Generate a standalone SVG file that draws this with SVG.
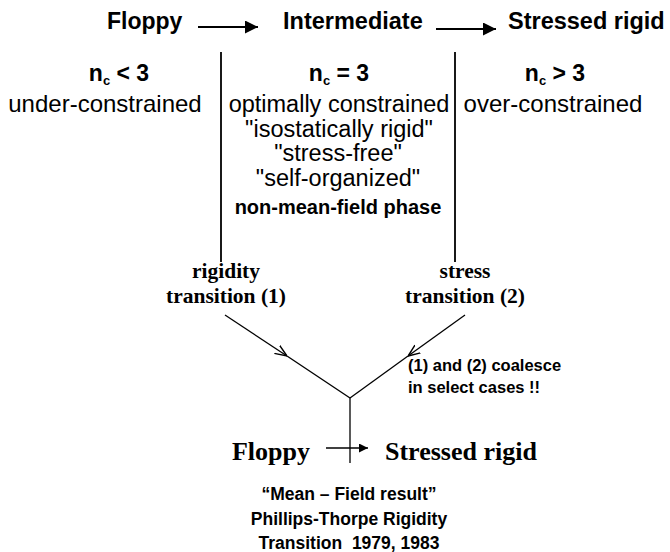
<svg xmlns="http://www.w3.org/2000/svg" width="670" height="552" viewBox="0 0 670 552">
<style>
.hb{font-family:"Liberation Sans",Arial,sans-serif;font-weight:bold;fill:#000}
.hr{font-family:"Liberation Sans",Arial,sans-serif;fill:#000}
.tb{font-family:"Liberation Serif","Times New Roman",serif;font-weight:bold;fill:#000}
.ln{stroke:#000;stroke-width:1.8;fill:none}
.arr{stroke:#000;stroke-width:2.2;fill:none}
.thin{stroke:#000;stroke-width:1.3;fill:none}
</style>
<defs>
<marker id="fill" viewBox="0 0 10 10" refX="10" refY="5" markerWidth="10" markerHeight="9" markerUnits="userSpaceOnUse" orient="auto">
<path d="M0,0 L10,5 L0,10 z" fill="#000"/>
</marker>
<marker id="fillbig" viewBox="0 0 10 10" refX="10" refY="5" markerWidth="16" markerHeight="13" markerUnits="userSpaceOnUse" orient="auto">
<path d="M0,0 L10,5 L0,10 z" fill="#000"/>
</marker>
<marker id="open" viewBox="0 0 10 10" refX="10" refY="5" markerWidth="12" markerHeight="12" markerUnits="userSpaceOnUse" orient="auto">
<path d="M0,1 L10,5 L0,9" fill="none" stroke="#000" stroke-width="1.2"/>
</marker>
</defs>

<g id="connectors">
<line class="arr" x1="198" y1="27" x2="258" y2="27" marker-end="url(#fillbig)"/>
<line class="arr" x1="436" y1="29" x2="496" y2="29" marker-end="url(#fillbig)"/>
<line class="ln" x1="221" y1="52" x2="221" y2="262"/>
<line class="ln" x1="455" y1="52" x2="455" y2="262"/>
<line class="thin" x1="225" y1="315" x2="287" y2="356" marker-end="url(#open)"/>
<line class="thin" x1="287" y1="356" x2="350" y2="398"/>
<line class="thin" x1="465" y1="315" x2="408" y2="356" marker-end="url(#open)"/>
<line class="thin" x1="408" y1="356" x2="350" y2="398"/>
<line class="thin" x1="350" y1="398" x2="350" y2="463"/>
<line class="thin" x1="326" y1="448" x2="368" y2="448" marker-end="url(#fill)"/>
</g>

<g id="floppy-top"><text class="hb" x="107" y="29" font-size="23">Floppy</text></g>
<g id="intermediate-top"><text class="hb" x="283" y="29" font-size="23.5">Intermediate</text></g>
<g id="stressed-top"><text class="hb" x="508" y="29" font-size="23.5">Stressed rigid</text></g>

<g id="col-floppy">
<text class="hb" x="119" y="81" font-size="23" text-anchor="middle">n<tspan font-size="13" dy="4">c</tspan><tspan dy="-4"> &lt; 3</tspan></text>
<text class="hr" x="105" y="112" font-size="24" text-anchor="middle">under-constrained</text>
</g>

<g id="col-intermediate">
<text class="hb" x="339" y="81" font-size="23" text-anchor="middle">n<tspan font-size="13" dy="4">c</tspan><tspan dy="-4"> = 3</tspan></text>
<text class="hr" x="339" y="112" font-size="23.5" text-anchor="middle">optimally constrained</text>
<text class="hr" x="339" y="137" font-size="23.5" text-anchor="middle">"isostatically rigid"</text>
<text class="hr" x="338" y="161" font-size="23.5" text-anchor="middle">"stress-free"</text>
<text class="hr" x="338" y="186" font-size="23.5" text-anchor="middle">"self-organized"</text>
<text class="hb" x="338" y="214" font-size="20" text-anchor="middle">non-mean-field phase</text>
</g>

<g id="col-stressed">
<text class="hb" x="555" y="81" font-size="23" text-anchor="middle">n<tspan font-size="13" dy="4">c</tspan><tspan dy="-4"> &gt; 3</tspan></text>
<text class="hr" x="553" y="112" font-size="24" text-anchor="middle">over-constrained</text>
</g>

<g id="rigidity-transition">
<text class="tb" x="226" y="278" font-size="21.5" text-anchor="middle">rigidity</text>
<text class="tb" x="226" y="303" font-size="21.5" text-anchor="middle">transition (1)</text>
</g>

<g id="stress-transition">
<text class="tb" x="465" y="278" font-size="21.5" text-anchor="middle">stress</text>
<text class="tb" x="465" y="303" font-size="21.5" text-anchor="middle">transition (2)</text>
</g>

<g id="coalesce-note">
<text class="hb" x="408" y="371" font-size="16.5">(1) and (2) coalesce</text>
<text class="hb" x="408" y="393" font-size="16.5">in select cases !!</text>
</g>

<g id="mean-field">
<text class="tb" x="310" y="460" font-size="26" text-anchor="end">Floppy</text>
<text class="tb" x="385" y="460" font-size="26">Stressed rigid</text>
</g>

<g id="caption">
<text class="hb" x="349" y="500" font-size="17.5" text-anchor="middle">“Mean – Field result”</text>
<text class="hb" x="349" y="525" font-size="17.5" text-anchor="middle">Phillips-Thorpe Rigidity</text>
<text class="hb" x="349" y="549" font-size="17.5" text-anchor="middle">Transition&#160; 1979, 1983</text>
</g>
</svg>
